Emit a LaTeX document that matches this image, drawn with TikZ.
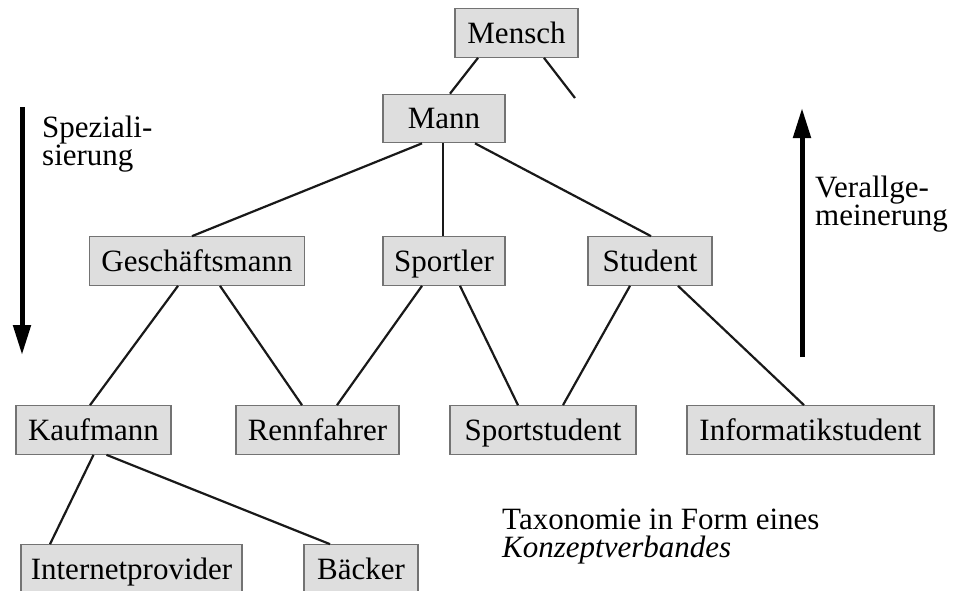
\documentclass[tikz,border=0pt]{standalone}
\usepackage{fontspec}
\setmainfont{Liberation Serif}
\usetikzlibrary{arrows.meta}
\tikzset{
  concept/.style={draw=black!55, line width=1.2pt, fill=black!13, inner sep=0pt,
    minimum height=48.5pt, text height=20.5pt, text depth=0pt,
    font=\fontsize{31}{28}\selectfont},
  edge/.style={draw=black!90, line width=2.2pt},
  bigarrow/.style={line width=5pt, -{Triangle[length=30pt,width=17pt]}},
  label/.style={inner sep=0pt, anchor=base west, align=left,
    font=\fontsize{31}{28}\selectfont}
}
\begin{document}
\begin{tikzpicture}[x=1pt,y=-1pt]
\useasboundingbox (0,0) rectangle (954,590);
% nodes
\node[concept, minimum width=123pt] (mensch) at (516.5,33) {Mensch};
\node[concept, minimum width=122pt] (mann) at (444,118.5) {Mann};
\node[concept, minimum width=215pt] (gesch) at (197,261) {Geschäftsmann};
\node[concept, minimum width=122pt] (sportler) at (444,261) {Sportler};
\node[concept, minimum width=124pt] (student) at (650,261) {Student};
\node[concept, minimum width=155pt] (kauf) at (93.5,430) {Kaufmann};
\node[concept, minimum width=163pt] (renn) at (317.5,430) {Rennfahrer};
\node[concept, minimum width=186pt] (sportst) at (543,430) {Sportstudent};
\node[concept, minimum width=247pt] (info) at (810.5,430) {Informatikstudent};
\node[concept, minimum width=221pt] (inet) at (131.5,569) {Internetprovider};
\node[concept, minimum width=114pt] (baecker) at (361,569) {Bäcker};
% labels (anchor = baseline of last line)
\node[label] (spez) at (42,165) {Speziali-\\sierung};
\node[label] (verall) at (815,225) {Verallge-\\meinerung};
\node[label] (tax) at (502,557) {Taxonomie in Form eines\\\textit{Konzeptverbandes}};
% arrows
\coordinate (sa) at (22,107);
\coordinate (sb) at (22,355);
\coordinate (va) at (802,357);
\coordinate (vb) at (802,108);
\draw[bigarrow] (sa) -- (sb);
\draw[bigarrow] (va) -- (vb);
% edges
\coordinate (dangle) at (575,98);
\draw[edge] ([xshift=-38.5pt]mensch.south) -- ([xshift=6pt]mann.north);
\draw[edge] ([xshift=27.5pt]mensch.south) -- (dangle);
\draw[edge] ([xshift=-22pt]mann.south) -- ([xshift=-5pt]gesch.north);
\draw[edge] ([xshift=-1pt]mann.south) -- ([xshift=-1pt]sportler.north);
\draw[edge] ([xshift=31pt]mann.south) -- ([xshift=1pt]student.north);
\draw[edge] ([xshift=-19pt]gesch.south) -- ([xshift=-3.5pt]kauf.north);
\draw[edge] ([xshift=23pt]gesch.south) -- ([xshift=-15.5pt]renn.north);
\draw[edge] ([xshift=-22pt]sportler.south) -- ([xshift=19.5pt]renn.north);
\draw[edge] ([xshift=16pt]sportler.south) -- ([xshift=-25pt]sportst.north);
\draw[edge] ([xshift=-20pt]student.south) -- ([xshift=20pt]sportst.north);
\draw[edge] ([xshift=28pt]student.south) -- ([xshift=-6.5pt]info.north);
\draw[edge] ([xshift=0pt]kauf.south) -- ([xshift=-81.5pt]inet.north);
\draw[edge] ([xshift=13pt]kauf.south) -- ([xshift=-31pt]baecker.north);
\end{tikzpicture}
\end{document}
